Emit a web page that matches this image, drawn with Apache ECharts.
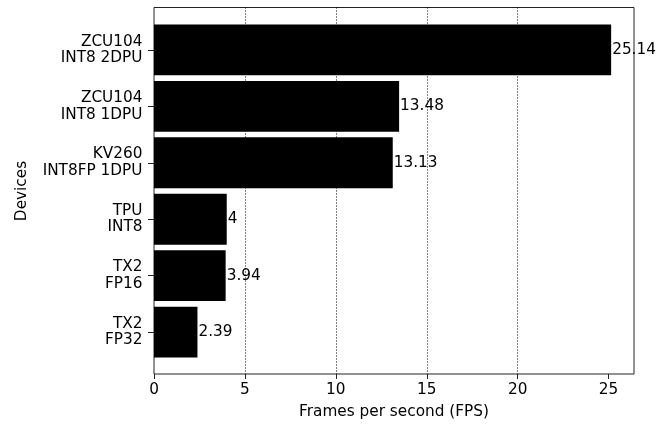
<!DOCTYPE html>
<html>
<head>
<meta charset="utf-8">
<script src="https://cdn.jsdelivr.net/npm/echarts@6/dist/echarts.min.js"></script>
<style>html,body{margin:0;padding:0;background:#fff}#c{width:670px;height:426px}</style>
</head>
<body>
<div id="c"></div>
<script>
const categories = ["ZCU104\nINT8 2DPU", "ZCU104\nINT8 1DPU", "KV260\nINT8FP 1DPU", "TPU\nINT8", "TX2\nFP16", "TX2\nFP32"];
const fps = [25.14, 13.48, 13.13, 4, 3.94, 2.39];
const xTicks = [0, 5, 10, 15, 20, 25];

const xMax = Math.max(...fps) * 1.05;
const font = 'DejaVu Sans';
const fs = 15.3;
const chart = echarts.init(document.getElementById('c'), null, {renderer: 'canvas'});
chart.setOption({
  animation: false,
  backgroundColor: '#fff',
  grid: [
    {left: 154, right: 36, top: 7.5, bottom: 52, show: true, borderColor: '#222', borderWidth: 1, backgroundColor: 'transparent'},
    {left: 154, right: 36, top: 21.6, bottom: 65.6}
  ],
  xAxis: [
    {
      gridIndex: 0, type: 'value', min: 0, max: xMax, interval: 5,
      axisLine: {show: false},
      axisTick: {show: true, inside: false, length: 5, customValues: xTicks, lineStyle: {color: '#222', width: 1}},
      axisLabel: {color: '#000', fontFamily: font, fontSize: fs, margin: 9, customValues: xTicks,
        formatter: v => String(v)},
      splitLine: {show: true, showMinLine: false, showMaxLine: false, lineStyle: {color: '#000', width: 1, type: [1, 2]}},
      name: 'Frames per second (FPS)', nameLocation: 'middle', nameGap: 31,
      nameTextStyle: {color: '#000', fontFamily: font, fontSize: fs}
    },
    {gridIndex: 1, type: 'value', min: 0, max: xMax, show: false}
  ],
  yAxis: [
    {gridIndex: 0, type: 'value', min: 0, max: 1, axisLine: {show: false}, axisTick: {show: false}, axisLabel: {show: false}, splitLine: {show: false}},
    {
      gridIndex: 1, type: 'category', inverse: true, data: categories,
      axisLine: {show: false},
      axisTick: {show: true, alignWithLabel: true, length: 6, lineStyle: {color: '#222', width: 1}},
      axisLabel: {color: '#000', fontFamily: font, fontSize: fs, lineHeight: 16.5, align: 'right', margin: 11.5},
      name: 'Devices', nameLocation: 'middle', nameGap: 124,
      nameTextStyle: {color: '#000', fontFamily: font, fontSize: fs}
    }
  ],
  series: [{
    type: 'bar', xAxisIndex: 1, yAxisIndex: 1, data: fps, barWidth: '90%',
    itemStyle: {color: '#000'},
    label: {show: true, position: 'right', distance: 1, color: '#000', fontFamily: font, fontSize: fs,
      formatter: p => String(p.value)}
  }]
});
</script>
</body>
</html>
